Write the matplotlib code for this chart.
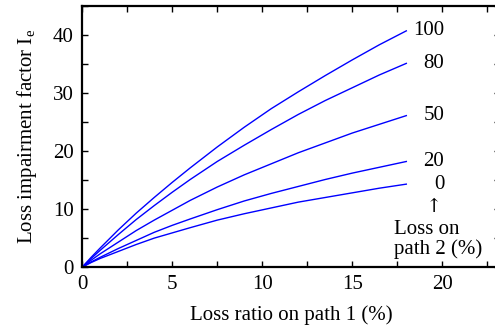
import matplotlib
matplotlib.use('Agg')
import matplotlib.pyplot as plt
from matplotlib.ticker import MultipleLocator

# Loss ratio on path 1 (%)
loss_p1 = [0, 0.5, 1, 2, 3, 4, 5, 6, 7.5, 9, 10.5, 12, 13.5, 15, 16.5, 18]

# Loss impairment factor Ie, one curve per loss on path 2 (%)
path2_levels = ['100', '80', '50', '20', '0']
ie_100 = [0, 1.7, 3.3, 6.4, 9.3, 12.0, 14.6, 17.1, 20.7, 24.1, 27.3, 30.2, 33.0, 35.7, 38.3, 40.7]
ie_80 = [0, 1.5, 2.9, 5.6, 8.2, 10.6, 12.9, 15.1, 18.2, 21.0, 23.7, 26.3, 28.7, 30.9, 33.1, 35.1]
ie_50 = [0, 1.2, 2.3, 4.3, 6.3, 8.1, 9.8, 11.5, 13.8, 15.9, 17.8, 19.7, 21.4, 23.1, 24.6, 26.1]
ie_20 = [0, 0.9, 1.7, 3.2, 4.6, 6.0, 7.2, 8.3, 9.9, 11.4, 12.7, 13.9, 15.1, 16.2, 17.2, 18.2]
ie_0 = [0, 0.8, 1.5, 2.7, 3.9, 5.0, 5.9, 6.8, 8.1, 9.2, 10.2, 11.2, 12.0, 12.8, 13.6, 14.3]
curves = [ie_100, ie_80, ie_50, ie_20, ie_0]

plt.rcParams['font.family'] = ['Liberation Serif', 'DejaVu Serif']
plt.rcParams['mathtext.fontset'] = 'custom'
plt.rcParams['mathtext.rm'] = 'Liberation Serif'
plt.rcParams['mathtext.it'] = 'Liberation Serif:italic'
plt.rcParams['font.size'] = 15

fig = plt.figure(figsize=(4.95, 3.27), dpi=100)
ax = fig.add_axes([0.166, 0.183, 0.844, 0.799])

for vals, lab in zip(curves, path2_levels):
    ax.plot(loss_p1, vals, color='#0000ff', linewidth=1.0)
    ax.text(20.1, vals[-1], lab, ha='right', va='center')

ax.text(19.55, 10.4, '\u2191', ha='center', va='center', fontsize=14,
        family=['DejaVu Serif'])
ax.text(17.3, 4.8, 'Loss on\npath 2 (%)', ha='left', va='center',
        linespacing=1.0)

ax.set_xlim(0, 23.2)
ax.set_ylim(0, 45)
ax.xaxis.set_major_locator(MultipleLocator(5))
ax.xaxis.set_minor_locator(MultipleLocator(2.5))
ax.yaxis.set_major_locator(MultipleLocator(10))
ax.yaxis.set_minor_locator(MultipleLocator(5))
ax.tick_params(which='both', direction='in', top=True, right=True,
               length=4, width=1.0, labelsize=15)
ax.tick_params(axis='x', pad=6)
ax.tick_params(axis='y', pad=6)
for s in ax.spines.values():
    s.set_linewidth(1.6)

ax.set_xlabel('Loss ratio on path 1 (%)', labelpad=8)
ax.set_ylabel('Loss impairment factor I$_{\\mathrm{e}}$', labelpad=10)

fig.savefig('out.png', dpi=100)
